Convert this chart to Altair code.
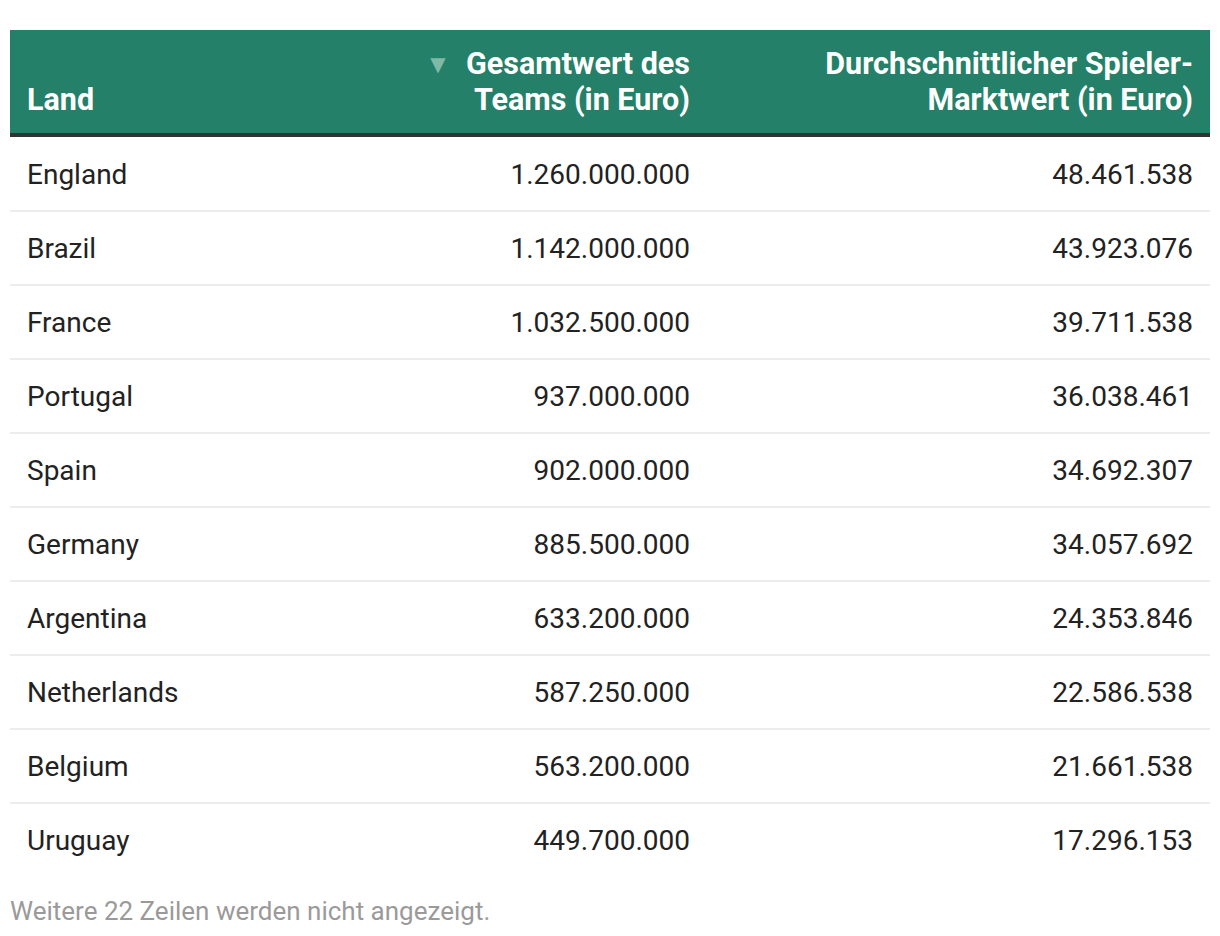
import altair as alt
import pandas as pd

# ---- data ----
countries = ["England", "Brazil", "France", "Portugal", "Spain", "Germany",
             "Argentina", "Netherlands", "Belgium", "Uruguay"]
team_value = [1260000000, 1142000000, 1032500000, 937000000, 902000000,
              885500000, 633200000, 587250000, 563200000, 449700000]
avg_player_value = [48461538, 43923076, 39711538, 36038461, 34692307,
                    34057692, 24353846, 22586538, 21661538, 17296153]
header_land = "Land"
header_team = ["Gesamtwert des", "Teams (in Euro)"]
header_avg = ["Durchschnittlicher Spieler-", "Marktwert (in Euro)"]
sort_arrow = "▼"
footer_note = "Weitere 22 Zeilen werden nicht angezeigt."

df = pd.DataFrame({
    "row": list(range(len(countries))),
    "Land": countries,
    "team": team_value,
    "avg": avg_player_value,
})

GREEN = "#248068"
FONT = "Roboto"
W, H = 1204, 920

yscale = alt.Scale(domain=[0, 9], range=[166, 832])
Y = alt.Y("row:Q", scale=yscale, axis=None)

base = alt.Chart(df)
one = alt.Chart(pd.DataFrame({"k": [0]}))

header_bg = one.mark_rect(color=GREEN).encode(
    x=alt.value(2), x2=alt.value(1202), y=alt.value(22), y2=alt.value(125))
header_line = one.mark_rect(color="#333333").encode(
    x=alt.value(2), x2=alt.value(1202), y=alt.value(125), y2=alt.value(129))

seps = base.transform_filter("datum.row < 9").transform_calculate(
    sep="datum.row + 0.5").mark_rule(color="#e6e6e6", strokeWidth=1.5).encode(
    y=alt.Y("sep:Q", scale=yscale, axis=None), x=alt.value(2), x2=alt.value(1202))

txt = dict(font=FONT, fontSize=28, color="#222222", baseline="middle", dy=2)
col_land = base.mark_text(align="left", **txt).encode(
    x=alt.value(19), y=Y, text="Land:N")
col_team = base.mark_text(align="right", **txt).encode(
    x=alt.value(682), y=Y, text=alt.Text("team:Q", format=",d"))
col_avg = base.mark_text(align="right", **txt).encode(
    x=alt.value(1185), y=Y, text=alt.Text("avg:Q", format=",d"))

htxt = dict(font=FONT, fontSize=30.5, fontWeight="bold", color="white",
            baseline="middle", lineHeight=36)
h_land = one.mark_text(align="left", **htxt).encode(
    x=alt.value(19), y=alt.value(93), text=alt.value(header_land))
h_team = one.mark_text(align="right", **htxt).encode(
    x=alt.value(682), y=alt.value(57), text=alt.value(header_team))
h_avg = one.mark_text(align="right", **htxt).encode(
    x=alt.value(1185), y=alt.value(57), text=alt.value(header_avg))
h_arrow = one.mark_text(align="center", baseline="middle", font="DejaVu Sans",
                        fontSize=20, color="#80b9a6").encode(
    x=alt.value(430), y=alt.value(57), text=alt.value(sort_arrow))

footer = one.mark_text(align="left", baseline="middle", font=FONT, fontSize=26,
                       color="#9a9a9a").encode(
    x=alt.value(2), y=alt.value(904), text=alt.value(footer_note))

chart = alt.layer(
    header_bg, header_line, seps, col_land, col_team, col_avg,
    h_land, h_team, h_avg, h_arrow, footer
).properties(
    width=W, height=H, padding=0, autosize=alt.AutoSizeParams(type="none"),
    background="white"
).configure(
    view={"stroke": None},
    locale={"number": {"decimal": ",", "thousands": ".", "grouping": [3],
                       "currency": ["", " €"]}}
)

chart.save("out.html", embed_options={"renderer": "svg", "actions": False})
